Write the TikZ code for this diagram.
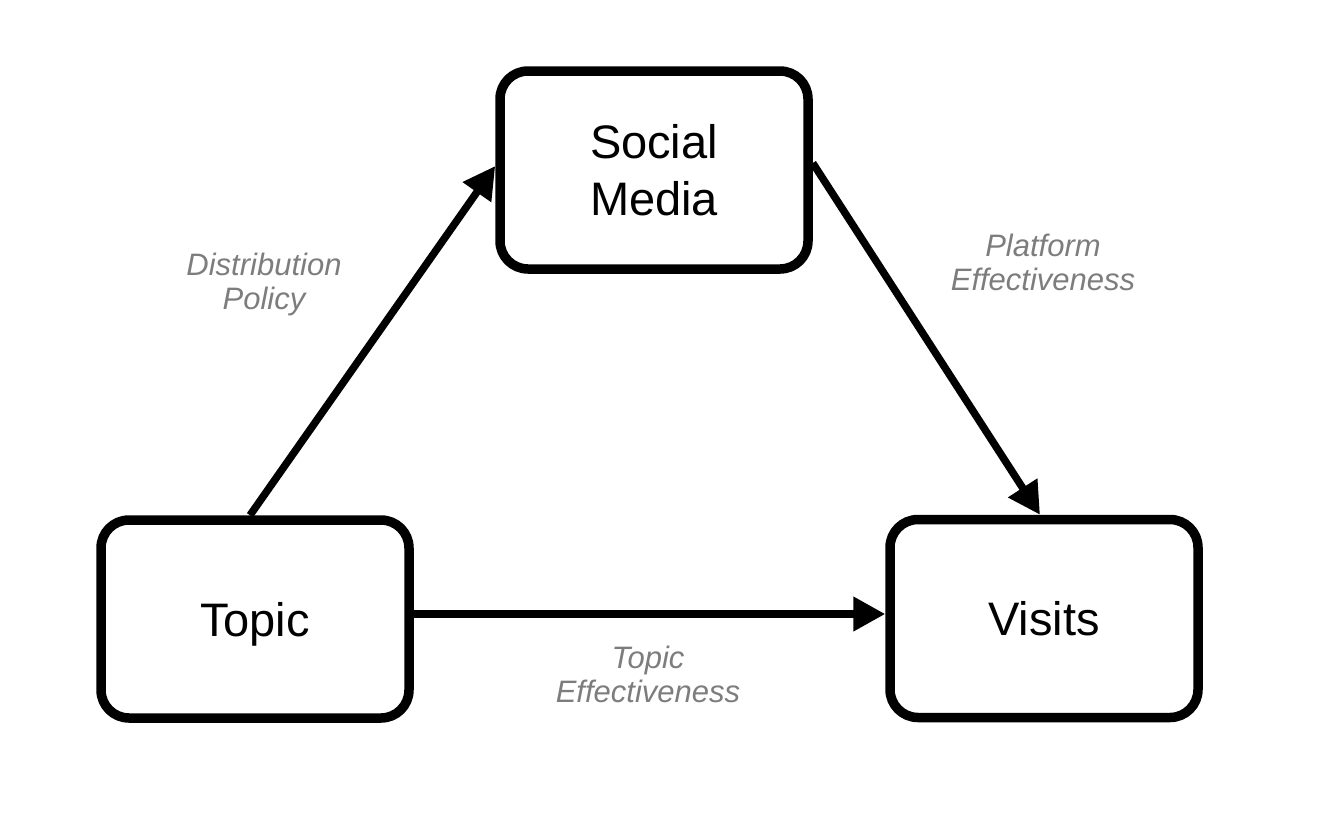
\documentclass[tikz,border=0pt]{standalone}
\usepackage{fontspec}
\setmainfont{Liberation Sans}
\usetikzlibrary{arrows.meta,calc}
\definecolor{labelgray}{RGB}{125,125,125}
\tikzset{
  box/.style={draw=black, line width=9.5pt, rounded corners=28pt, fill=white,
    minimum width=308pt, minimum height=198pt, inner sep=0pt, align=center,
    font=\fontsize{47}{57}\selectfont},
  conn/.style={line width=7.5pt, -{Triangle[length=32pt,width=33pt]}, shorten >=0pt},
  lbl/.style={text=labelgray, align=center, inner sep=0pt,
    font=\fontsize{31}{34}\selectfont\itshape}
}
\begin{document}
\begin{tikzpicture}[x=1pt,y=-1pt]
\useasboundingbox (0,0) rectangle (1326,812);
\node[box] (sm) at (654,170) {Social\\Media};
\node[box] (topic) at (255,619) {\raisebox{0pt}[\height][0pt]{Topic}};
\node[box] (visits) at (1044,618.5) {Visits};
\draw[conn] ($(topic.north)+(-5,0)$) -- ($(sm.west)+(0,-4)$);
\draw[conn] ($(sm.east)+(0,-7)$) -- ($(visits.north)+(-4,0)$);
\draw[conn] ($(topic.east)+(0,-5)$) -- ($(visits.west)+(0,-4.5)$);
\node[lbl] (l1) at (264,284) {Distribution\\Policy};
\node[lbl] (l2) at (1043,262) {Platform\\Effectiveness};
\node[lbl] (l3) at (648,674) {Topic\\Effectiveness};
\end{tikzpicture}
\end{document}
